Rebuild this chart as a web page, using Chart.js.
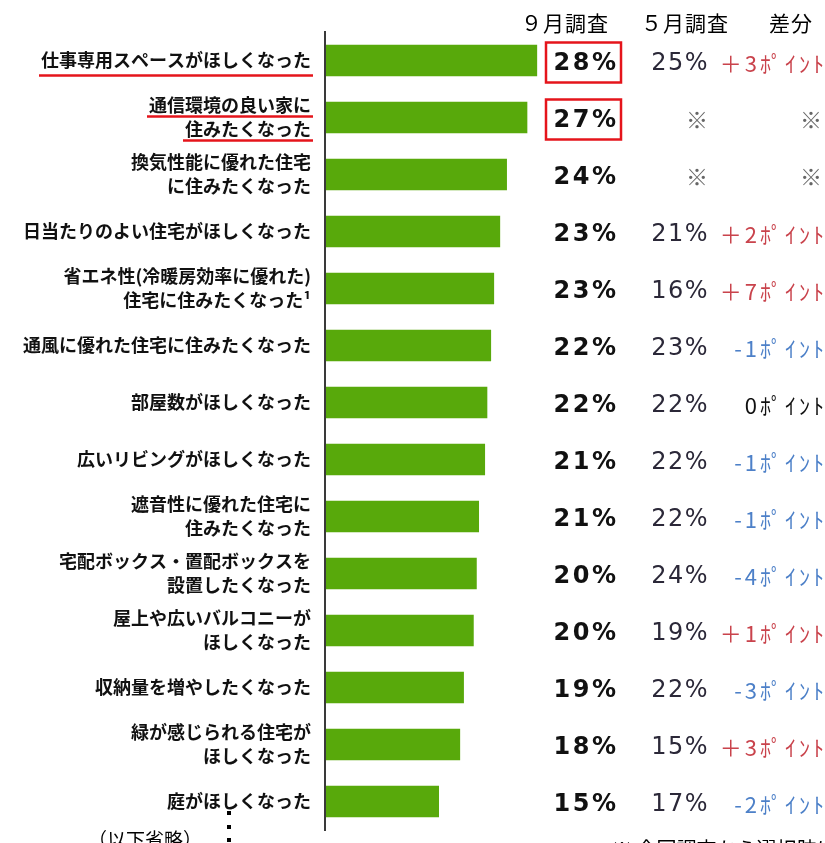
<!DOCTYPE html>
<html>
<head>
<meta charset="utf-8">
<script src="https://cdn.jsdelivr.net/npm/chart.js@4"></script>
<style>
html,body{margin:0;padding:0;background:#fff;}
#wrap{width:825px;height:843px;}
</style>
</head>
<body>
<div id="wrap"><canvas id="c" width="825" height="843"></canvas></div>
<script>
// ---- data ----
const categories = [
  ["仕事専用スペースがほしくなった"],
  ["通信環境の良い家に","住みたくなった"],
  ["換気性能に優れた住宅","に住みたくなった"],
  ["日当たりのよい住宅がほしくなった"],
  ["省エネ性(冷暖房効率に優れた)","住宅に住みたくなった¹"],
  ["通風に優れた住宅に住みたくなった"],
  ["部屋数がほしくなった"],
  ["広いリビングがほしくなった"],
  ["遮音性に優れた住宅に","住みたくなった"],
  ["宅配ボックス・置配ボックスを","設置したくなった"],
  ["屋上や広いバルコニーが","ほしくなった"],
  ["収納量を増やしたくなった"],
  ["緑が感じられる住宅が","ほしくなった"],
  ["庭がほしくなった"]
];
// bar lengths (September survey)
const septBars = [28.1, 26.8, 24.1, 23.2, 22.4, 22.0, 21.5, 21.2, 20.4, 20.1, 19.7, 18.4, 17.9, 15.1];
// printed September values (%)
const septPct = [28, 27, 24, 23, 23, 22, 22, 21, 21, 20, 20, 19, 18, 15];
// printed May values (%), null = ※ (new option)
const mayPct = [25, null, null, 21, 16, 23, 22, 22, 22, 24, 19, 22, 15, 17];
// difference in points, null = ※
const diffPts = [3, null, null, 2, 7, -1, 0, -1, -1, -4, 1, -3, 3, -2];
const underlined = [true, true, false, false, false, false, false, false, false, false, false, false, false, false];
const boxed = [true, true, false, false, false, false, false, false, false, false, false, false, false, false];
const columnHeaders = ["９月調査", "５月調査", "差分"];
const footLeft = "（以下省略）";
const footRight = "※ 今回調査から選択肢に追加";

const JP = "'Noto Sans CJK JP','Noto Sans',sans-serif";
const LABEL_SIZE = 18, LABEL_LH = 1.33;

const overlay = {
  id: 'overlay',
  afterDraw(chart) {
    const ctx = chart.ctx;
    const ys = chart.scales.y;
    const left = chart.chartArea.left;
    const tickRight = left - 14;
    ctx.save();

    // headers
    ctx.fillStyle = '#000';
    ctx.font = "21px " + JP;
    ctx.textBaseline = 'middle';
    ctx.textAlign = 'left';
    ctx.letterSpacing = '1px';
    ctx.fillText(columnHeaders[0], 521, 23);
    ctx.fillText(columnHeaders[1], 641, 23);
    ctx.fillText(columnHeaders[2], 769, 23);

    for (let i = 0; i < categories.length; i++) {
      const yc = ys.getPixelForValue(i);
      // September value
      ctx.letterSpacing = '2.5px';
      ctx.font = "bold 24px 'DejaVu Sans',sans-serif";
      ctx.fillStyle = '#111';
      ctx.textAlign = 'center';
      ctx.fillText(septPct[i] + '%', 586, yc + 3);
      // May value
      ctx.font = "24px 'DejaVu Sans',sans-serif";
      ctx.letterSpacing = '1.5px';
      ctx.textAlign = 'right';
      if (mayPct[i] === null) {
        ctx.fillStyle = '#666';
        ctx.font = "22px " + JP;
        ctx.letterSpacing = '0px';
        ctx.fillText('※', 708, yc + 2);
      } else {
        ctx.fillStyle = '#2b2838';
        ctx.fillText(mayPct[i] + '%', 709, yc + 3);
      }
      // difference
      ctx.font = "22px " + JP;
      ctx.letterSpacing = '3px';
      const d = diffPts[i];
      if (d === null) {
        ctx.fillStyle = '#666';
        ctx.letterSpacing = '0px';
        ctx.font = "22px " + JP;
        ctx.fillText('※', 822, yc + 2);
      } else {
        let txt;
        if (d > 0) { ctx.fillStyle = '#c9434c'; txt = '＋' + d + 'ﾎﾟｲﾝﾄ'; }
        else if (d < 0) { ctx.fillStyle = '#4d80c8'; txt = '-' + Math.abs(d) + 'ﾎﾟｲﾝﾄ'; }
        else { ctx.fillStyle = '#111'; txt = d + 'ﾎﾟｲﾝﾄ'; }
        ctx.fillText(txt, 827, yc + 3);
      }
      ctx.letterSpacing = '0px';
      // red boxes
      if (boxed[i]) {
        ctx.strokeStyle = '#e5141b';
        ctx.lineWidth = 2.5;
        ctx.strokeRect(546, yc - 18, 75, 40);
      }
      // red underlines
      if (underlined[i]) {
        const lines = categories[i];
        const n = lines.length;
        const lh = LABEL_SIZE * LABEL_LH;
        ctx.font = "bold " + LABEL_SIZE + "px " + JP;
        ctx.strokeStyle = '#e5141b';
        ctx.lineWidth = 2.5;
        for (let j = 0; j < n; j++) {
          const ly = yc + (j - (n - 1) / 2) * lh;
          const w = ctx.measureText(lines[j]).width;
          const uy = ly + (n === 1 ? 15 : 11);
          ctx.beginPath();
          ctx.moveTo(tickRight - w - 2, uy);
          ctx.lineTo(tickRight + 2, uy);
          ctx.stroke();
        }
      }
    }

    // footnotes
    ctx.fillStyle = '#000';
    ctx.textAlign = 'left';
    ctx.font = "19px " + JP;
    ctx.fillText(footLeft, 88, 840);
    ctx.fillRect(227, 811, 4, 4);
    ctx.fillRect(227, 825, 4, 4);
    ctx.fillRect(227, 838, 4, 4);
    ctx.font = "20px " + JP;
    ctx.fillText(footRight, 612, 849);
    ctx.restore();
  }
};

new Chart(document.getElementById('c'), {
  type: 'bar',
  data: {
    labels: categories,
    datasets: [{
      data: septBars,
      backgroundColor: '#58a90b',
      borderWidth: 0,
      categoryPercentage: 1,
      barPercentage: 0.55
    }]
  },
  options: {
    indexAxis: 'y',
    responsive: false,
    animation: false,
    devicePixelRatio: 1,
    layout: { padding: { top: 32, bottom: 13, left: 0, right: 198 } },
    plugins: { legend: { display: false }, tooltip: { enabled: false }, title: { display: false } },
    scales: {
      x: { display: false, min: 0, max: 40 },
      y: {
        afterFit(s) { s.width = 325; s.paddingTop = 0; s.paddingBottom = 0; },
        grid: { display: false, drawTicks: false },
        border: { display: true, color: '#3a3a3a', width: 2, z: 1 },
        ticks: {
          color: '#111',
          padding: 14,
          font: { family: JP, size: LABEL_SIZE, weight: 'bold', lineHeight: LABEL_LH }
        }
      }
    }
  },
  plugins: [overlay]
});
</script>
</body>
</html>
